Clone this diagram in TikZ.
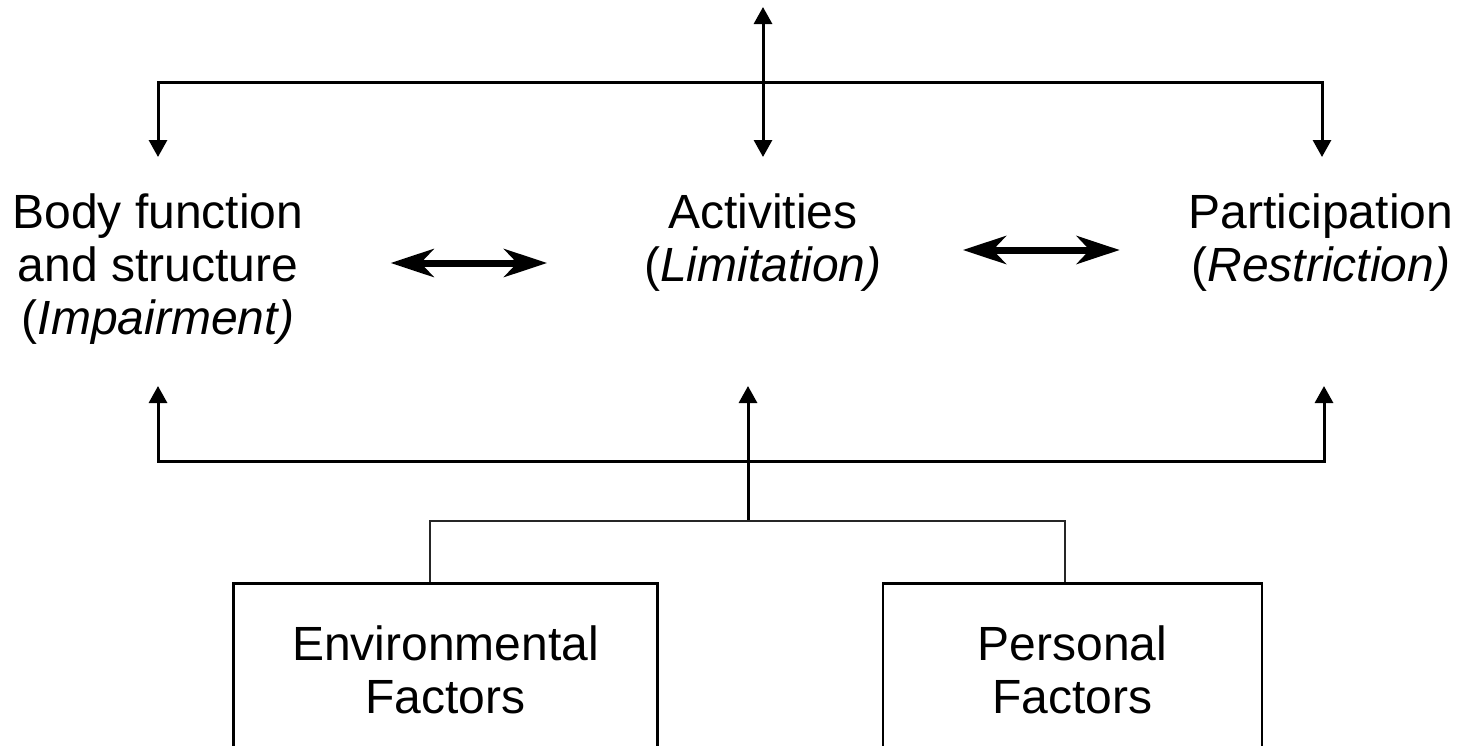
\documentclass[tikz,border=0pt]{standalone}
\usepackage{fontspec}
\setmainfont{Liberation Sans}
\usetikzlibrary{arrows.meta}
\tikzset{
	label/.style={align=center, inner sep=0pt, font=\fontsize{48}{53}\selectfont},
	factor/.style={label, draw, line width=2.8pt, anchor=north, minimum height=172pt},
	link/.style={line width=3pt, >={Triangle[width=18pt,length=17pt]}},
	stem/.style={line width=1.6pt, color=black!85},
	bigarrow/.style={line width=7pt, arrows={Stealth[length=43pt,width=28pt,inset=13pt]-Stealth[length=43pt,width=28pt,inset=13pt]}}
}

\begin{document}
\begin{tikzpicture}[x=1pt, y=-1pt]
			%%%%% START %%%%%
			\useasboundingbox (0,0) rectangle (1468,745);
			\clip (0,0) rectangle (1468,745);
			
			\node[label, anchor=north] (body) at (158,194) {Body function\\and structure\\(\textit{Impairment)}};
			\node[label, anchor=north] (activ) at (763,194) {Activities\\(\textit{Limitation)}};
			\node[label, anchor=north] (partic) at (1321,194) {Participation\\(\textit{Restriction)}};
			
			\node[factor, minimum width=424pt] (envir) at (445.5,582) {Environmental\\Factors};
			\node[factor, minimum width=379pt] (person) at (1072.5,582) {Personal\\Factors};
			
			\coordinate (apex) at (763,7);
			\coordinate (topbar) at (763,82);
			\coordinate (uptip) at (0,157);
			\coordinate (lowtip) at (0,386);
			\coordinate (botbar) at (748,461);
			\coordinate (fork) at (748,521);
			\coordinate (lrow) at (0,263);
			\coordinate (rrow) at (0,250);
			
			% top
			\draw[link, <->] (apex) -- (apex |- uptip);
			\draw[link, ->] (topbar) -| (body.north |- uptip);
			\draw[link, ->] (topbar) -| ([xshift=1pt]partic.north |- uptip);
			
			% middle
			\draw[bigarrow, shorten <=87pt, shorten >=97pt] (body.east |- lrow) -- (activ.west |- lrow);
			\draw[bigarrow, shorten <=81pt, shorten >=69pt] (activ.east |- rrow) -- (partic.west |- rrow);
			
			% bottom
			\draw[link, ->] (botbar) -| (body.south |- lowtip);
			\draw[link, ->] (botbar) -| ([xshift=3pt]partic.south |- lowtip);
			\draw[link, ->] (fork) -- (fork |- lowtip);
			\draw[stem] ([xshift=-15.5pt]envir.north) |- (fork) -| ([xshift=-7.5pt]person.north);
			
			%%%%% END %%%%%
\end{tikzpicture}
\end{document}
